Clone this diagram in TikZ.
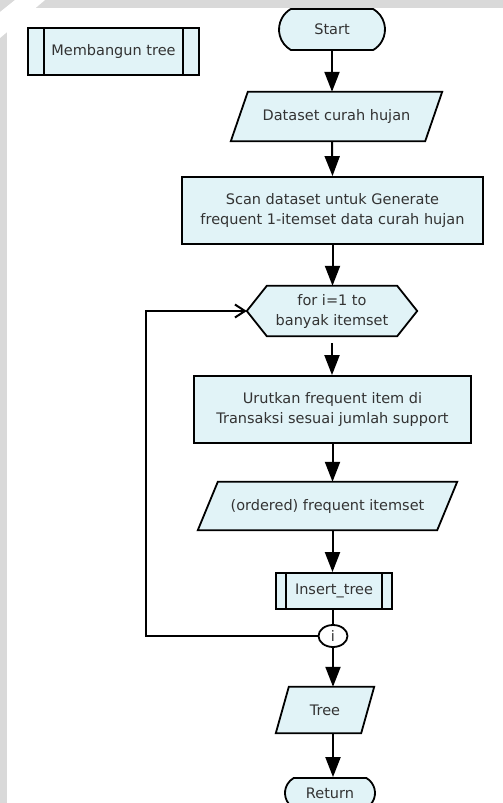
\documentclass[tikz,border=0pt]{standalone}
\usepackage{fontspec}
\setmainfont{DejaVu Sans}
\usetikzlibrary{arrows.meta,shapes.misc,shapes.geometric,backgrounds,calc}
\definecolor{boxfill}{HTML}{E1F3F7}
\definecolor{ink}{HTML}{333333}
\definecolor{edge}{HTML}{D9D9D9}

\begin{document}
\begin{tikzpicture}[x=1pt,y=-1pt,
  txt/.style={font=\fontsize{14.5}{20}\selectfont, text=ink, align=center, inner sep=0pt},
  procbox/.style={txt, rectangle, draw=black, line width=1.8pt, fill=boxfill},
  terminal/.style={txt, rounded rectangle, rounded rectangle arc length=120,
                   draw=black, line width=1.8pt, fill=boxfill},
  ghost/.style={txt, rectangle},
  outline/.style={draw=black, line width=1.8pt, fill=boxfill, line join=miter},
  bar/.style={draw=black, line width=1.8pt},
  flow/.style={line width=2pt, -{Triangle[length=20pt,width=15pt]}},
  plain/.style={line width=2pt},
  back/.style={line width=2pt, -{Straight Barb[length=10pt,width=13pt,line width=2pt]}},
]
\useasboundingbox (0,0) rectangle (503,803);

% sub-process title
\node[procbox, minimum width=171, minimum height=47] (mb) at (113.5,51.5) {Membangun tree};
\draw[bar] ([xshift=17pt]mb.north west) -- ([xshift=17pt]mb.south west);
\draw[bar] ([xshift=-17pt]mb.north east) -- ([xshift=-17pt]mb.south east);

% main column
\node[terminal, minimum width=106, minimum height=41] (start) at (332,29.5) {Start};
\node[ghost, minimum width=211, minimum height=49] (data) at (336.5,116.5) {Dataset curah hujan};
\node[procbox, minimum width=301, minimum height=67] (scan) at (332.5,210.5)
  {Scan dataset untuk Generate\\frequent 1-itemset data curah hujan};
\node[ghost, minimum width=130, minimum height=50] (loop) at (332,311) {for i=1 to\\banyak itemset};
\coordinate (hl) at ($(loop.west)-(20,0)$);
\node[procbox, minimum width=277, minimum height=67] (sort) at (332.5,409.5)
  {Urutkan frequent item di\\Transaksi sesuai jumlah support};
\node[ghost, minimum width=259, minimum height=48] (ord) at (327.5,506) {(ordered) frequent itemset};
\node[procbox, minimum width=116, minimum height=36] (ins) at (334,591) {Insert\_tree};
\draw[bar] ([xshift=11pt]ins.north west) -- ([xshift=11pt]ins.south west);
\draw[bar] ([xshift=-11pt]ins.north east) -- ([xshift=-11pt]ins.south east);
\node[txt, ellipse, draw=black, line width=1.8pt, fill=white, minimum width=29, minimum height=22] (conn) at (333,636) {i};
\node[ghost, minimum width=98, minimum height=46] (tree) at (325,710) {Tree};
\node[terminal, minimum width=90, minimum height=30] (ret) at (330,793) {Return};
\coordinate (lx) at (146,636);

% page frame, then the outlines of the input/output and loop shapes
\begin{pgfonlayer}{background}
  \fill[white] (0,0) rectangle (503,803);
  \fill[edge] (0,0) rectangle (503,8);
  \fill[edge] (0,0) rectangle (7,803);
  \fill[white] (15,0) -- (45,0) -- (0,38) -- (0,12) -- cycle;
  \path[outline] ($(data.north west)+(17,0)$) -- (data.north east)
    -- ($(data.south east)-(17,0)$) -- (data.south west) -- cycle;
  \path[outline] (loop.north west) -- (loop.north east) -- ($(loop.east)+(20,0)$)
    -- (loop.south east) -- (loop.south west) -- (hl) -- cycle;
  \path[outline] ($(ord.north west)+(20,0)$) -- (ord.north east)
    -- ($(ord.south east)-(20,0)$) -- (ord.south west) -- cycle;
  \path[outline] ($(tree.north west)+(13,0)$) -- (tree.north east)
    -- ($(tree.south east)-(13,0)$) -- (tree.south west) -- cycle;
\end{pgfonlayer}

% connectors
\draw[flow] (start.south) -- (start.south |- data.north);
\draw[flow] (start.south |- data.south) -- (scan.north);
\draw[flow] (scan.south) -- (scan.south |- loop.north);
\draw[flow] ($(loop.south)+(0,7)$) -- (loop.south |- sort.north);
\draw[flow] (sort.south) -- (sort.south |- ord.north);
\draw[flow] (sort.south |- ord.south) -- (sort.south |- ins.north);
\draw[plain] (ins.south -| conn.north) -- (conn.north);
\draw[flow] (conn.south) -- (conn.south |- tree.north);
\draw[flow] (conn.south |- tree.south) -- (conn.south |- ret.north);
\draw[back] (conn.west) -- (lx) |- (hl);
\end{tikzpicture}
\end{document}
